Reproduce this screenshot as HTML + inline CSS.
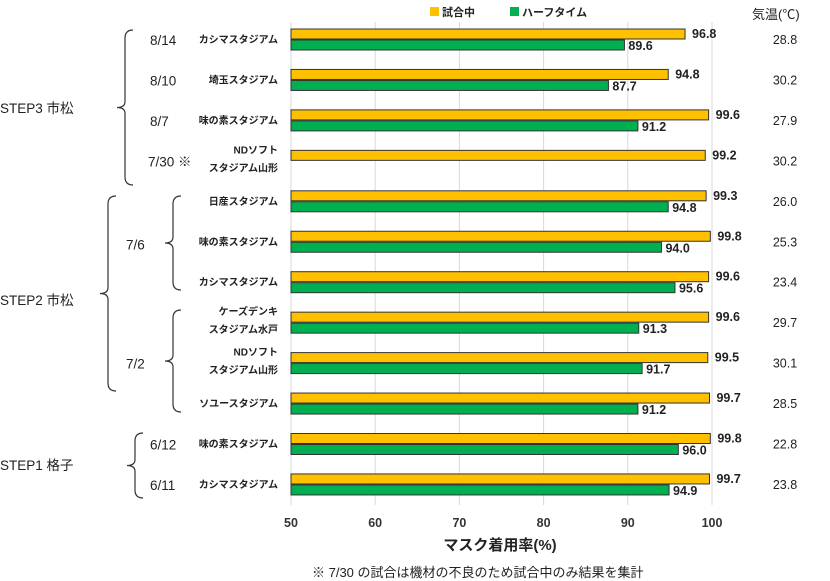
<!DOCTYPE html>
<html><head><meta charset="utf-8"><style>
body{margin:0;background:#fff;}
svg{display:block;font-family:"Liberation Sans","Noto Sans CJK JP",sans-serif;}
</style></head><body>
<svg id="c" width="830" height="580"></svg>
<script>
const venues=["カシマスタジアム","埼玉スタジアム","味の素スタジアム","NDソフト|スタジアム山形","日産スタジアム","味の素スタジアム","カシマスタジアム","ケーズデンキ|スタジアム水戸","NDソフト|スタジアム山形","ソユースタジアム","味の素スタジアム","カシマスタジアム"];
const inGame=[96.8,94.8,99.6,99.2,99.3,99.8,99.6,99.6,99.5,99.7,99.8,99.7];
const halftime=[89.6,87.7,91.2,null,94.8,94.0,95.6,91.3,91.7,91.2,96.0,94.9];
const temps=["28.8","30.2","27.9","30.2","26.0","25.3","23.4","29.7","30.1","28.5","22.8","23.8"];
const dates=[["8/14",0],["8/10",1],["8/7",2],["7/30 ※",3],["7/6",5],["7/2",8],["6/12",10],["6/11",11]];
const ticks=[50,60,70,80,90,100];
const NS="http://www.w3.org/2000/svg";
const svg=document.getElementById('c');
function el(t,a,txt){const e=document.createElementNS(NS,t);for(const k in a)e.setAttribute(k,a[k]);if(txt!=null)e.textContent=txt;svg.appendChild(e);return e;}
const x=v=>291+(v-50)*(712-291)/50;
const yTop=i=>29+i*40.45;
ticks.forEach(t=>{
 const g=el('line',{x1:x(t),x2:x(t),y1:22,y2:505,stroke:'#d9d9d9','stroke-width':1});
 
 const l=el('text',{x:x(t),y:527,'font-size':12.5,'text-anchor':'middle','font-weight':'bold',fill:'#333'},t);
 
});
venues.forEach((v,i)=>{
 const y=yTop(i);
 const b=el('rect',{x:x(50),y:y,width:x(inGame[i])-x(50),height:10,fill:'#ffc000',stroke:'#333','stroke-width':1});
 
 const t=el('text',{x:x(inGame[i])+7,y:y+9,'font-size':12.5,'font-weight':'bold',fill:'#222'},inGame[i].toFixed(1));
 
 if(halftime[i]!=null){
  const g=el('rect',{x:x(50),y:y+11,width:x(halftime[i])-x(50),height:10,fill:'#00b050',stroke:'#333','stroke-width':1});
  
  const h=el('text',{x:x(halftime[i])+4,y:y+21,'font-size':12.5,'font-weight':'bold',fill:'#222'},halftime[i].toFixed(1));
  
 }
 const parts=v.split('|');
 parts.forEach((p,k)=>{
  const yy=parts.length==1?y+14:y+(k==0?3:21);
  const n=el('text',{x:278,y:yy,'font-size':10,'font-weight':'bold','text-anchor':'end',fill:'#222'},p);
  
 });
 const tt=el('text',{x:785,y:y+15,'font-size':12.5,'text-anchor':'middle',fill:'#222'},temps[i]);
 
});
dates.forEach(([d,i])=>{
 let yy=yTop(i)+16, xx=150;
 if(d.startsWith("7/30"))xx=148;
 if(d=="7/6"){yy=yTop(5)+18;xx=126;} if(d=="7/2"){yy=yTop(8)+16;xx=126;}
 const t=el('text',{x:xx,y:yy,'font-size':13.5,fill:'#222'},d);
 
});
function brace(xx,y1,y2,name){
 const m=(y1+y2)/2,w=8;
 const p=el('path',{d:`M${xx+w},${y1} Q${xx},${y1} ${xx},${y1+8} L${xx},${m-6} Q${xx},${m} ${xx-w},${m} Q${xx},${m} ${xx},${m+6} L${xx},${y2-8} Q${xx},${y2} ${xx+w},${y2}`,fill:'none',stroke:'#333','stroke-width':1.2});
 
}
brace(125,30,185,'brace-step3');brace(108,196,391,'brace-step2');brace(173,196,290,'brace-7-6');brace(173,310,412,'brace-7-2');brace(135,433,498,'brace-step1');
[["STEP3 市松",113],["STEP2 市松",305],["STEP1 格子",470]].forEach(([s,y])=>{
 const t=el('text',{x:0,y:y,'font-size':13.5,fill:'#222'},s);
 
});
</script>
<div style="position:absolute;left:0;top:0;width:830px;height:580px;font-family:'Liberation Sans','Noto Sans CJK JP',sans-serif;pointer-events:none">
 <div style="position:absolute;left:430px;top:4px;font-size:11px;font-weight:bold;color:#222"><span style="display:inline-block;width:9px;height:9px;background:#ffc000;margin-right:3px"></span>試合中</div>
 <div style="position:absolute;left:510px;top:4px;font-size:11px;font-weight:bold;color:#222"><span style="display:inline-block;width:9px;height:9px;background:#00b050;margin-right:3px"></span>ハーフタイム</div>
 <div style="position:absolute;left:752px;top:4px;font-size:13px;color:#222">気温(℃)</div>
 <div style="position:absolute;left:420px;top:534px;width:160px;text-align:center;font-size:15px;font-weight:bold;color:#222">マスク着用率(%)</div>
 <div style="position:absolute;left:312px;top:562px;font-size:13px;color:#222">※ 7/30 の試合は機材の不良のため試合中のみ結果を集計</div>
</div>
</body></html>
